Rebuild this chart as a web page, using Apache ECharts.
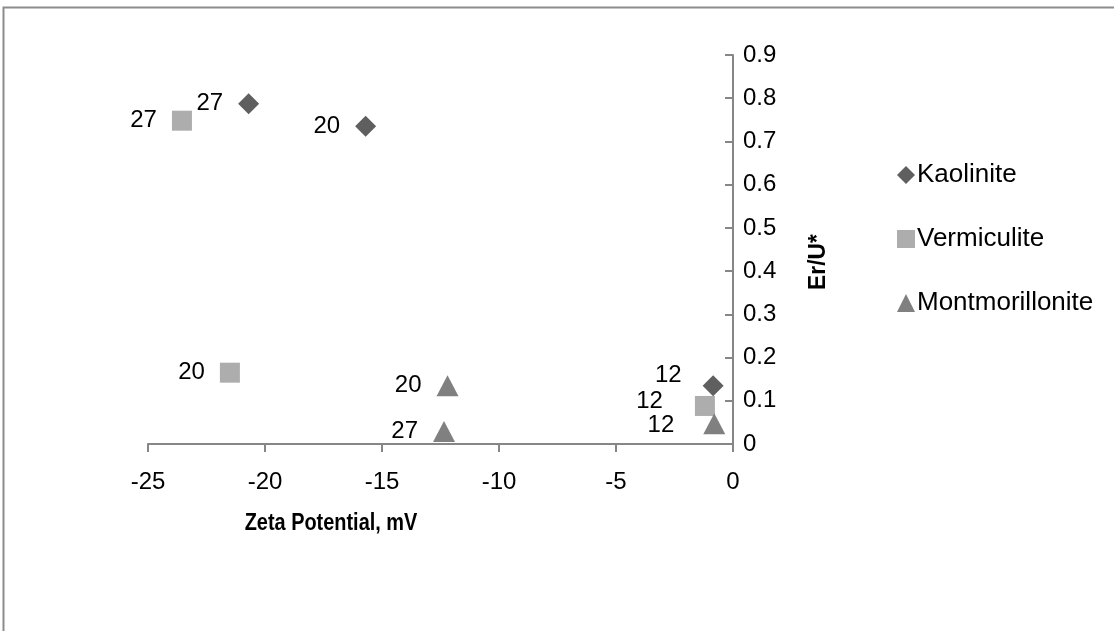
<!DOCTYPE html>
<html>
<head>
<meta charset="utf-8">
<script src="https://cdn.jsdelivr.net/npm/echarts@6/dist/echarts.min.js"></script>
<style>
  html, body { margin: 0; padding: 0; background: #fff; }
  #chart { width: 1114px; height: 631px; }
</style>
</head>
<body>
<div id="chart"></div>
<script>
// Er/U* against zeta potential for three clay minerals; point labels are sample tags.
const kaoliniteX = [-20.7, -15.7, -0.85];
const kaoliniteY = [0.787, 0.735, 0.135];
const kaoliniteTags = ['27', '20', '12'];

const vermiculiteX = [-23.55, -21.5, -1.2];
const vermiculiteY = [0.748, 0.165, 0.088];
const vermiculiteTags = ['27', '20', '12'];

const montmorilloniteX = [-12.2, -12.35, -0.8];
const montmorilloniteY = [0.135, 0.029, 0.047];
const montmorilloniteTags = ['20', '27', '12'];

const xTicks = { min: -25, max: 0, step: 5 };
const yTicks = { min: 0, max: 0.9, step: 0.1 };

const FONT = 'Liberation Sans';
const TEXT = '#000';
const AXIS = '#868686';

// label nudges for the crowded cluster near zero
const nudges = {
  Kaolinite: [null, null, [-6, -10]],
  Vermiculite: [null, null, [-17, -5]],
  Montmorillonite: [null, null, [-14, 2]]
};

function points(name, xs, ys, tags) {
  return xs.map((x, i) => {
    const item = { value: [x, ys[i]], tag: tags[i] };
    const n = nudges[name][i];
    if (n) item.label = { offset: n };
    return item;
  });
}

function series(name, xs, ys, tags, symbol, size, color) {
  return {
    name: name,
    type: 'scatter',
    symbol: symbol,
    symbolSize: size,
    itemStyle: { color: color, opacity: 1 },
    label: {
      show: true,
      position: 'left',
      distance: 15,
      formatter: p => p.data.tag,
      fontFamily: FONT,
      fontSize: 24,
      color: TEXT
    },
    data: points(name, xs, ys, tags)
  };
}

const chart = echarts.init(document.getElementById('chart'), null, { renderer: 'canvas' });

chart.setOption({
  backgroundColor: '#fff',
  animation: false,
  textStyle: { fontFamily: FONT },
  grid: { left: 148, right: 381, top: 55, bottom: 187, containLabel: false },
  legend: {
    orient: 'vertical',
    left: 892,
    top: 157,
    itemWidth: 18,
    itemHeight: 18,
    itemGap: 38,
    textStyle: { fontFamily: FONT, fontSize: 26, color: TEXT, lineHeight: 26, padding: [0, 0, 0, -3] },
    data: [
      { name: 'Kaolinite', icon: 'diamond' },
      { name: 'Vermiculite', icon: 'rect' },
      { name: 'Montmorillonite', icon: 'triangle' }
    ]
  },
  xAxis: {
    type: 'value',
    min: xTicks.min,
    max: xTicks.max,
    interval: xTicks.step,
    position: 'bottom',
    axisLine: { show: true, onZero: false, lineStyle: { color: AXIS, width: 2 } },
    axisTick: { show: true, inside: false, length: 8, lineStyle: { color: AXIS, width: 2 } },
    axisLabel: { fontFamily: FONT, fontSize: 24, color: TEXT, margin: 26 },
    splitLine: { show: false }
  },
  yAxis: {
    type: 'value',
    min: yTicks.min,
    max: yTicks.max,
    interval: yTicks.step,
    position: 'right',
    axisLine: { show: true, onZero: false, lineStyle: { color: AXIS, width: 2 } },
    axisTick: { show: true, inside: true, length: 8, lineStyle: { color: AXIS, width: 2 } },
    axisLabel: { fontFamily: FONT, fontSize: 24, color: TEXT, margin: 10 },
    splitLine: { show: false }
  },
  graphic: [
    {
      type: 'rect',
      silent: true,
      shape: { x: 3.5, y: 7.5, width: 1200, height: 700 },
      style: { fill: 'none', stroke: '#8c8c8c', lineWidth: 2 }
    },
    {
      // condensed bold axis title
      type: 'text',
      x: 331,
      y: 523,
      scaleX: 0.83,
      style: {
        text: 'Zeta Potential, mV',
        font: 'bold 24px "' + FONT + '"',
        fill: TEXT,
        align: 'center',
        verticalAlign: 'middle'
      }
    },
    {
      type: 'text',
      x: 818,
      y: 262,
      rotation: Math.PI / 2,
      scaleX: 0.95,
      style: {
        text: 'Er/U*',
        font: 'bold 24px "' + FONT + '"',
        fill: TEXT,
        align: 'center',
        verticalAlign: 'middle'
      }
    }
  ],
  series: [
    series('Kaolinite', kaoliniteX, kaoliniteY, kaoliniteTags, 'diamond', 21, '#5f5f5f'),
    series('Vermiculite', vermiculiteX, vermiculiteY, vermiculiteTags, 'rect', 20, '#adadad'),
    series('Montmorillonite', montmorilloniteX, montmorilloniteY, montmorilloniteTags, 'triangle', [22, 21], '#808080')
  ]
});
</script>
</body>
</html>
